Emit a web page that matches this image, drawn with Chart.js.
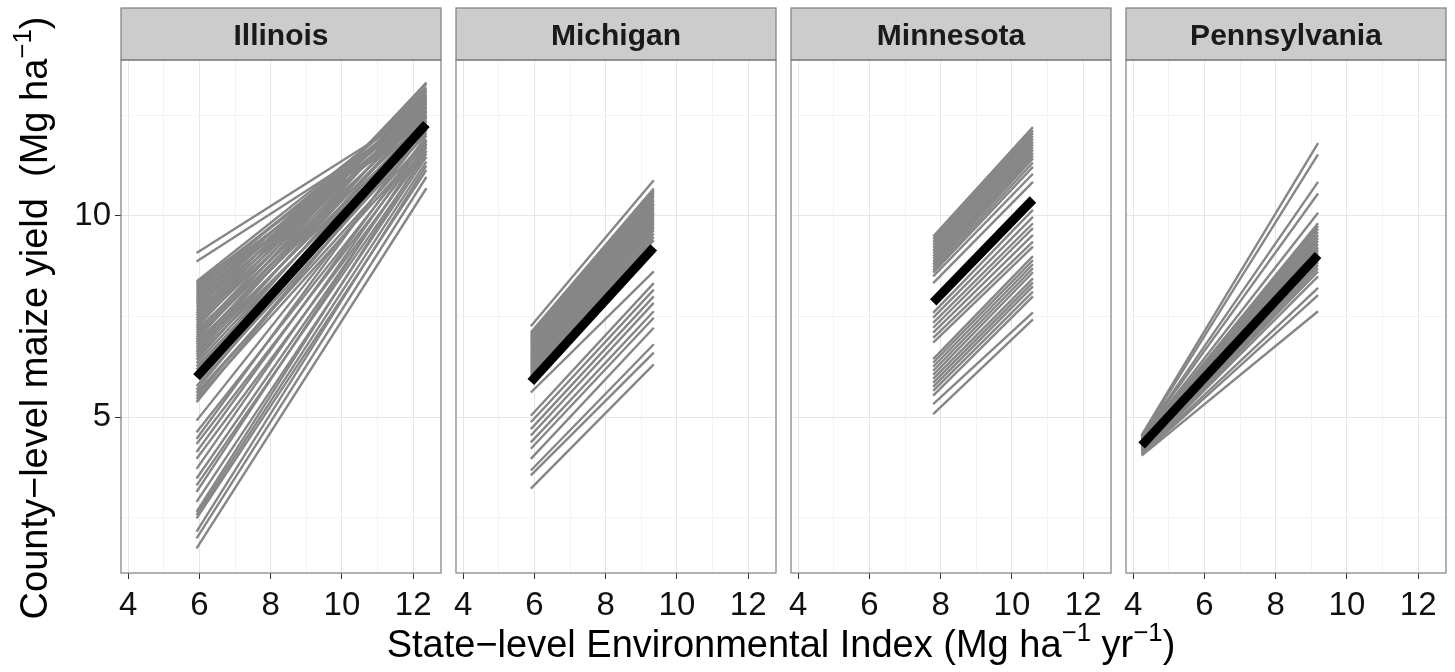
<!DOCTYPE html>
<html>
<head>
<meta charset="utf-8">
<script src="https://cdn.jsdelivr.net/npm/chart.js@4/dist/chart.umd.min.js"></script>
<style>
  html, body { margin: 0; padding: 0; background: #fff; overflow: hidden; }
  #wrap { position: relative; width: 1455px; height: 672px; font-family: "Liberation Sans", Arial, sans-serif; }
  canvas { position: absolute; top: 0; }
  .axis-title { position: absolute; font-size: 38px; color: #000; white-space: nowrap; text-align: center; }
  .axis-title sup { font-size: 0.68em; vertical-align: 0.62em; line-height: 0; }
  #ytitle { width: 660px; height: 46px; line-height: 46px; left: -296px; top: 295px; transform: rotate(-90deg); }
  #xtitle { width: 800px; height: 44px; line-height: 44px; left: 381px; top: 622px; }
</style>
</head>
<body>
<div id="wrap">
  <canvas id="p0" width="445" height="630" style="left:0px"></canvas>
  <canvas id="p1" width="328" height="630" style="left:452px"></canvas>
  <canvas id="p2" width="328" height="630" style="left:787px"></canvas>
  <canvas id="p3" width="328" height="630" style="left:1122px"></canvas>
  <div id="ytitle" class="axis-title">County−level maize yield&nbsp;&nbsp;(Mg ha<sup>−1</sup>)</div>
  <div id="xtitle" class="axis-title">State−level Environmental Index (Mg ha<sup>−1</sup> yr<sup>−1</sup>)</div>
</div>
<script>
// tick positions (major + minor grid)
const xTicks = [4, 5, 6, 7, 8, 9, 10, 11, 12]
const yTicks = [2.5, 5, 7.5, 10, 12.5]

// Illinois: county lines from EI min to EI max
const illinoisEI = [5.92, 12.37]
const illinoisMean = [5.99, 12.29]
const illinoisStart = [
  9.08, 8.87, 8.37, 8.32, 8.27, 8.22, 8.17, 8.12,
  8.07, 8.02, 7.97, 7.92, 7.87, 7.82, 7.76, 7.70,
  7.64, 7.58, 7.52, 7.46, 7.40, 7.34, 7.28, 7.22,
  7.16, 7.10, 7.04, 6.98, 6.92, 6.86, 6.80, 6.74,
  6.68, 6.62, 6.56, 6.50, 6.42, 6.34, 6.26, 6.18,
  6.10, 5.77, 5.68, 5.60, 5.52, 5.45, 5.37, 4.91,
  4.62, 4.46, 4.33, 4.13, 3.96, 3.71, 3.47, 3.30,
  3.14, 2.89, 2.64, 2.56, 2.48, 2.15, 1.98, 1.73
]
const illinoisEnd = [
  12.70, 12.55, 12.90, 12.62, 12.80, 12.48, 12.95, 12.70,
  12.40, 12.85, 12.60, 13.05, 12.75, 12.50, 13.12, 12.88,
  12.62, 13.20, 12.95, 12.70, 13.28, 13.02, 12.80, 13.32,
  12.55, 13.10, 12.85, 12.62, 13.15, 12.45, 12.90, 12.70,
  12.35, 12.98, 12.60, 12.25, 12.80, 12.45, 12.15, 12.65,
  12.30, 12.05, 12.50, 11.90, 12.20, 11.80, 12.35, 12.10,
  11.85, 12.25, 11.75, 12.00, 11.62, 11.90, 11.70, 11.55,
  11.80, 11.47, 11.62, 11.35, 11.14, 11.25, 10.97, 10.69
]

// Michigan
const michiganEI = [5.90, 9.35]
const michiganMean = [5.87, 9.22]
const michiganStart = [
  7.26, 7.10, 7.05, 7.00, 6.95, 6.90, 6.85, 6.80,
  6.75, 6.70, 6.65, 6.60, 6.55, 6.50, 6.45, 6.40,
  6.35, 6.30, 6.25, 6.20, 6.15, 6.10, 6.05, 6.00,
  5.95, 5.61, 5.03, 4.87, 4.70, 4.54, 4.37, 4.21,
  3.96, 3.67, 3.55, 3.22
]
const michiganEnd = [
  10.89, 10.68, 10.62, 10.58, 10.52, 10.48, 10.42, 10.38,
  10.32, 10.28, 10.22, 10.17, 10.12, 10.07, 10.02, 9.97,
  9.92, 9.87, 9.82, 9.76, 9.70, 9.64, 9.56, 9.48,
  9.40, 8.62, 8.33, 8.17, 8.00, 7.84, 7.63, 7.47,
  7.22, 6.81, 6.60, 6.31
]

// Minnesota
const minnesotaEI = [7.79, 10.59]
const minnesotaMean = [7.85, 10.41]
const minnesotaStart = [
  9.49, 9.42, 9.35, 9.28, 9.21, 9.14, 9.07, 9.00,
  8.93, 8.86, 8.79, 8.72, 8.65, 8.59, 8.50, 8.33,
  7.59, 7.47, 7.34, 7.22, 7.10, 6.97, 6.85, 6.44,
  6.35, 6.25, 6.15, 6.05, 5.95, 5.85, 5.75, 5.65,
  5.53, 5.32, 5.07
]
const minnesotaEnd = [
  12.21, 12.13, 12.06, 11.99, 11.92, 11.85, 11.78, 11.71,
  11.64, 11.57, 11.50, 11.43, 11.33, 11.22, 11.05, 10.85,
  10.15, 9.98, 9.82, 9.70, 9.53, 9.36, 9.24, 9.00,
  8.90, 8.80, 8.70, 8.60, 8.45, 8.35, 8.25, 8.12,
  8.00, 7.60, 7.43
]

// Pennsylvania
const pennsylvaniaEI = [4.24, 9.19]
const pennsylvaniaMean = [4.29, 9.03]
const pennsylvaniaStart = [
  4.55, 4.52, 4.50, 4.48, 4.46, 4.44, 4.42, 4.40,
  4.38, 4.36, 4.34, 4.32, 4.30, 4.28, 4.26, 4.24,
  4.22, 4.20, 4.18, 4.16, 4.14, 4.12, 4.10, 4.08,
  4.06, 4.04
]
const pennsylvaniaEnd = [
  11.81, 11.53, 10.85, 10.56, 10.08, 9.82, 9.75, 9.68,
  9.60, 9.52, 9.45, 9.38, 9.30, 9.22, 9.15, 9.08,
  9.00, 8.92, 8.85, 8.78, 8.70, 8.62, 8.50, 8.21,
  8.03, 7.63
]

Chart.defaults.font.family = '"Liberation Sans", Arial, sans-serif'

// strip on top + grey border round the panel
const panelFrame = {
  id: 'panelFrame',
  afterDraw(chart, args, opts) {
    const ctx = chart.ctx
    const a = chart.chartArea
    ctx.save()
    ctx.fillStyle = '#cccccc'
    ctx.fillRect(a.left, 8, a.right - a.left, a.top - 8)
    ctx.strokeStyle = '#7f7f7f'
    ctx.lineWidth = 1.2
    ctx.strokeRect(a.left, 8, a.right - a.left, a.top - 8)
    ctx.strokeRect(a.left, a.top, a.right - a.left, a.bottom - a.top)
    ctx.fillStyle = '#1a1a1a'
    ctx.font = 'bold 30px "Liberation Sans", Arial, sans-serif'
    ctx.textAlign = 'center'
    ctx.textBaseline = 'alphabetic'
    ctx.fillText(opts.label, (a.left + a.right) / 2, 45)
    ctx.restore()
  }
}

function buildPanel(id, label, ei, starts, ends, mean, withYAxis) {
	var datasets = starts.map(function(s, i) {
		return {
			data: [{x: ei[0], y: s}, {x: ei[1], y: ends[i]}],
			borderColor: '#868686',
			borderWidth: 2.4,
			pointRadius: 0,
			order: 1
		}
	})
	// state mean line, drawn over the counties
	datasets.push({
		data: [{x: ei[0], y: mean[0]}, {x: ei[1], y: mean[1]}],
		borderColor: '#000000',
		borderWidth: 9,
		pointRadius: 0,
		order: 0
	})

	return new Chart(document.getElementById(id), {
		type: 'line',
		data: { datasets: datasets },
		plugins: [panelFrame],
		options: {
			responsive: false,
			animation: false,
			events: [],
			layout: {
				padding: { top: 60, left: withYAxis ? 0 : 4, right: 4, bottom: 0 }
			},
			plugins: {
				legend: { display: false },
				tooltip: { enabled: false },
				panelFrame: { label: label }
			},
			scales: {
				x: {
					type: 'linear',
					min: 3.8,
					max: 12.78,
					afterBuildTicks: function(s) { s.ticks = xTicks.map(function(v) { return {value: v} }) },
					afterFit: function(s) { s.height = 57; s.paddingLeft = 0; s.paddingRight = 0 },
					ticks: {
						autoSkip: false,
						maxRotation: 0,
						padding: 7,
						color: '#111',
						font: { size: 33 },
						callback: function(v) { return v % 2 === 0 ? String(v) : '' }
					},
					grid: {
						color: function(c) { return c.tick && c.tick.value % 2 === 0 ? '#e6e6e6' : '#f4f4f4' },
						lineWidth: 1,
						tickLength: 6,
						tickColor: function(c) { return c.tick && c.tick.value % 2 === 0 ? '#333333' : 'rgba(0,0,0,0)' }
					},
					border: { display: false }
				},
				y: {
					type: 'linear',
					min: 1.12,
					max: 13.88,
					afterBuildTicks: function(s) { s.ticks = yTicks.map(function(v) { return {value: v} }) },
					afterFit: function(s) { s.width = withYAxis ? 121 : 0; s.paddingTop = 0; s.paddingBottom = 0 },
					ticks: {
						display: withYAxis,
						padding: 4,
						color: '#111',
						font: { size: 33 },
						callback: function(v) { return v % 5 === 0 ? String(v) : '' }
					},
					grid: {
						color: function(c) { return c.tick && c.tick.value % 5 === 0 ? '#e6e6e6' : '#f4f4f4' },
						lineWidth: 1,
						drawTicks: withYAxis,
						tickLength: 6,
						tickColor: function(c) { return c.tick && c.tick.value % 5 === 0 ? '#333333' : 'rgba(0,0,0,0)' }
					},
					border: { display: false }
				}
			}
		}
	})
}

buildPanel('p0', 'Illinois', illinoisEI, illinoisStart, illinoisEnd, illinoisMean, true)
buildPanel('p1', 'Michigan', michiganEI, michiganStart, michiganEnd, michiganMean, false)
buildPanel('p2', 'Minnesota', minnesotaEI, minnesotaStart, minnesotaEnd, minnesotaMean, false)
buildPanel('p3', 'Pennsylvania', pennsylvaniaEI, pennsylvaniaStart, pennsylvaniaEnd, pennsylvaniaMean, false)
</script>
</body>
</html>
